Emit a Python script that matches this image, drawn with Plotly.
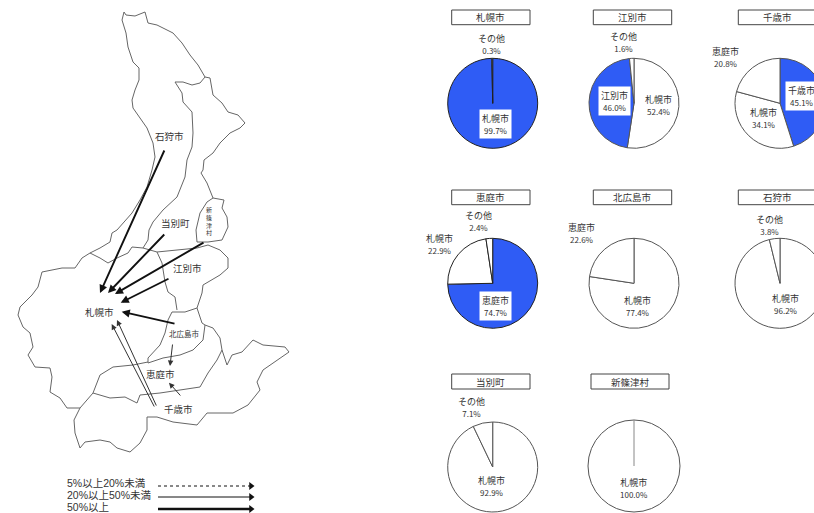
import plotly.graph_objects as go

# Figure canvas runs slightly past the window so the third pie column is cut at the edge
W, H = 830, 513

# Commuting shares by municipality
pie_titles = ["札幌市", "江別市", "千歳市", "恵庭市", "北広島市", "石狩市", "当別町", "新篠津村"]
sapporo_labels = ["札幌市", "その他"]
sapporo_values = [99.7, 0.3]
ebetsu_labels = ["札幌市", "江別市", "その他"]
ebetsu_values = [52.4, 46.0, 1.6]
chitose_labels = ["千歳市", "札幌市", "恵庭市"]
chitose_values = [45.1, 34.1, 20.8]
eniwa_labels = ["恵庭市", "札幌市", "その他"]
eniwa_values = [74.7, 22.9, 2.4]
kitahiroshima_labels = ["札幌市", "恵庭市"]
kitahiroshima_values = [77.4, 22.6]
ishikari_labels = ["札幌市", "その他"]
ishikari_values = [96.2, 3.8]
tobetsu_labels = ["札幌市", "その他"]
tobetsu_values = [92.9, 7.1]
shinshinotsu_labels = ["札幌市"]
shinshinotsu_values = [100.0]

all_labels = [sapporo_labels, ebetsu_labels, chitose_labels, eniwa_labels,
              kitahiroshima_labels, ishikari_labels, tobetsu_labels, shinshinotsu_labels]
all_values = [sapporo_values, ebetsu_values, chitose_values, eniwa_values,
              kitahiroshima_values, ishikari_values, tobetsu_values, shinshinotsu_values]

# Home municipality is highlighted in its own pie
highlight = ["札幌市", "江別市", "千歳市", "恵庭市", None, None, None, None]

BLUE = "#2f5cf5"
INK = "#333333"
JP = "Noto Sans CJK JP"

# Pixel layout of the pie grid: centre x, centre y, radius, title box x0, x1, y0, y1
pie_boxes = [
    (492.7, 103.3, 45, 451.7, 530, 10, 24.7),
    (634, 103.3, 45, 593.3, 671.7, 10, 24.7),
    (780, 103.3, 45, 738.3, 817, 10, 24.7),
    (492.7, 283.3, 45, 451.7, 530, 190, 204.7),
    (634, 283.3, 45, 593.3, 671.7, 190, 204.7),
    (780, 283.3, 45, 738.3, 817, 190, 204.7),
    (492.7, 467, 45, 451.7, 530, 374, 389),
    (634, 466, 46, 591, 669, 374, 389),
]

# Slice label positions, one list per pie, same order as its labels
label_spots = [
    [(495, 124), (491.7, 44)],
    [(658, 104.5), (614, 100.8), (623, 41.7)],
    [(801.7, 95.8), (763, 117.8), (725, 57)],
    [(495, 306), (439, 243.8), (478, 220.8)],
    [(637, 305.5), (581.7, 232.7)],
    [(785, 303.8), (769, 225)],
    [(491, 486), (471.7, 407)],
    [(634, 488)],
]

# District outlines, x and y in map units
ishikari_west = [(124, 12), (122, 20), (126, 33), (128, 47), (133, 62), (139, 68), (139, 80), (135, 90),
                 (132, 100), (133, 108), (140, 118), (147, 128), (153, 143), (155, 157), (152, 170),
                 (147, 187), (140, 200), (132, 213), (117, 230), (112, 233), (110, 242), (100, 248),
                 (90, 253), (82, 258)]
ishikari_east = [(124, 12), (126, 15), (135, 16), (145, 12), (148, 23), (157, 25), (163, 28), (173, 33),
                 (182, 43), (190, 55), (198, 65), (205, 77), (210, 78), (213, 95), (222, 103), (228, 112),
                 (238, 115), (245, 123), (240, 128), (230, 133), (220, 143), (213, 153), (204, 160),
                 (203, 170), (201, 173), (207, 183), (213, 198)]
tobetsu_inner = [(205, 77), (200, 83), (192, 85), (183, 82), (175, 82), (182, 93), (183, 102), (192, 112),
                 (193, 133), (192, 147), (187, 160), (185, 177), (177, 197), (163, 210), (153, 222),
                 (149, 230), (148, 240), (143, 248), (132, 247), (128, 253), (117, 258), (108, 263),
                 (100, 258), (90, 253)]
tobetsu_south = [(143, 248), (157, 252), (197, 248), (208, 245), (220, 250), (228, 258), (228, 268),
                 (220, 275), (203, 285), (202, 293), (197, 308)]
shinshinotsu_outline = [(207, 202), (213, 198), (224, 200), (222, 208), (227, 217), (228, 227), (222, 240),
                        (208, 242), (197, 242), (196, 230), (200, 213), (207, 202)]
ebetsu_west = [(157, 252), (162, 263), (165, 282), (168, 292), (175, 297), (177, 310)]
kitahiroshima_outline = [(172, 312), (185, 312), (197, 308), (202, 323), (205, 325), (203, 340), (193, 350),
                         (180, 355), (163, 358), (148, 363), (148, 358), (160, 345), (165, 333), (168, 320),
                         (172, 312)]
sapporo_outline = [(82, 258), (75, 268), (62, 268), (50, 270), (42, 272), (38, 287), (32, 295), (20, 307),
                   (18, 315), (23, 327), (30, 333), (33, 347), (28, 355), (35, 367), (50, 368), (52, 377),
                   (50, 392), (60, 398), (67, 408), (80, 408), (93, 393), (100, 375), (113, 367), (133, 365),
                   (148, 362)]
eniwa_outline = [(93, 393), (110, 398), (125, 397), (137, 403), (140, 395), (160, 393), (180, 390), (200, 387),
                 (208, 373), (217, 360), (222, 350), (220, 338), (213, 328), (205, 325)]
chitose_outline = [(80, 408), (74, 420), (75, 433), (80, 448), (85, 442), (100, 440), (110, 442), (117, 448),
                   (130, 452), (140, 443), (147, 430), (147, 417), (157, 417), (173, 422), (197, 425),
                   (207, 413), (233, 413), (248, 405), (260, 390), (257, 382), (263, 370), (277, 360),
                   (289, 352), (285, 347), (263, 345), (253, 340), (242, 352), (232, 355), (227, 365),
                   (222, 350)]
map_outlines = [ishikari_west, ishikari_east, tobetsu_inner, tobetsu_south, shinshinotsu_outline, ebetsu_west,
                kitahiroshima_outline, sapporo_outline, eniwa_outline, chitose_outline]

map_places = ["石狩市", "当別町", "江別市", "札幌市", "恵庭市", "千歳市"]
place_spots = [(169, 136), (175, 223), (187, 268), (99, 312), (160, 374), (178, 409)]

# Flows between districts: start x, start y, end x, end y, line width
flows = [
    (165, 149, 100, 293, 1.9),
    (165.7, 233, 108, 293, 1.9),
    (205, 241.7, 115, 294, 1.9),
    (170, 278, 120.7, 302.7, 1.9),
    (176, 324, 121.7, 311.7, 1.9),
    (172.7, 343, 170, 366, 1),
    (181.7, 397, 169, 382.7, 1),
    (155, 408, 111.7, 324, 1),
    (157, 407, 117, 320, 1),
]

legend_labels = ["5%以上20%未満", "20%以上50%未満", "50%以上"]
legend_rows = [486, 497, 509]
legend_text_rows = [482.5, 494.5, 506.5]
legend_widths = [1, 1, 2.4]
legend_dashes = ["dot", "solid", "solid"]

fig = go.Figure()

# District map
for outline in map_outlines:
    fig.add_trace(go.Scatter(x=[p[0] for p in outline], y=[p[1] for p in outline], mode="lines",
                             line=dict(color="#666666", width=1), hoverinfo="skip", showlegend=False))

# Legend rows with arrow ends
for row, width, dash in zip(legend_rows, legend_widths, legend_dashes):
    fig.add_trace(go.Scatter(x=[158, 252], y=[row, row], mode="lines", line=dict(color="#111111", width=width, dash=dash),
                             hoverinfo="skip", showlegend=False))
    fig.add_trace(go.Scatter(x=[251], y=[row], mode="markers", marker=dict(symbol="triangle-right", size=7, color="#111111"),
                             hoverinfo="skip", showlegend=False))

annotations = []
shapes = []


def note(x, y, text, size=9, **kw):
    annotations.append(dict(x=x, y=y, xref="x", yref="y", text=text, showarrow=False,
                            font=dict(family=JP, size=size, color=INK), **kw))


for i, (title, labels, values, box) in enumerate(zip(pie_titles, all_labels, all_values, pie_boxes)):
    cx, cy, r, bx0, bx1, by0, by1 = box
    colors = [BLUE if lab == highlight[i] else "white" for lab in labels]
    fig.add_trace(go.Pie(
        labels=labels, values=values, sort=False, direction="clockwise", rotation=0,
        marker=dict(colors=colors, line=dict(color="#222222" if i in (0, 3) else "#555555", width=1)),
        textinfo="none", hoverinfo="skip", showlegend=False,
        domain=dict(x=[(cx - r) / W, (cx + r) / W], y=[1 - (cy + r) / H, 1 - (cy - r) / H]),
    ))
    shapes.append(dict(type="rect", x0=bx0, x1=bx1, y0=by0, y1=by1, xref="x", yref="y",
                       line=dict(color="#444444", width=1), fillcolor="white"))
    note((bx0 + bx1) / 2, (by0 + by1) / 2, title, size=9.5)
    for lab, val, spot in zip(labels, values, label_spots[i]):
        text = f'{lab}<br><span style="font-size:8px">{val:.1f}%</span>'
        if lab == highlight[i]:
            note(spot[0], spot[1], text, size=9, bgcolor="white", borderpad=2)
        else:
            note(spot[0], spot[1], text, size=9)

# A single full slice still shows its seam at twelve o'clock
seam = pie_boxes[7]
shapes.append(dict(type="line", x0=seam[0], x1=seam[0], y0=seam[1] - seam[2], y1=seam[1], xref="x", yref="y",
                   line=dict(color="#888888", width=1)))

for name, spot in zip(map_places, place_spots):
    note(spot[0], spot[1], name, size=9.5)
note(184, 333.5, "北広島市", size=7.5)
annotations.append(dict(x=209, y=221, xref="x", yref="y", text="新<br>篠<br>津<br>村", showarrow=False,
                        font=dict(family=JP, size=6, color=INK)))

for x0, y0, x1, y1, width in flows:
    annotations.append(dict(x=x1, y=y1, ax=x0, ay=y0, xref="x", yref="y", axref="x", ayref="y", text="",
                            showarrow=True, arrowhead=2, arrowsize=1.1 if width < 1.5 else 0.85, arrowwidth=width,
                            arrowcolor="#111111" if width > 1 else "#333333", standoff=0))

for text, row in zip(legend_labels, legend_text_rows):
    annotations.append(dict(x=65, y=row, xref="x", yref="y", xanchor="left", text=text, showarrow=False,
                            font=dict(family="Liberation Sans, " + JP, size=10.5, color=INK)))

fig.update_layout(
    width=W, height=H, margin=dict(l=0, r=0, t=0, b=0), paper_bgcolor="white", plot_bgcolor="white",
    xaxis=dict(range=[0, W], visible=False, domain=[0, 1], fixedrange=True),
    yaxis=dict(range=[H, 0], visible=False, domain=[0, 1], fixedrange=True),
    shapes=shapes, annotations=annotations, showlegend=False,
)

fig.write_html("out.html", config={"displayModeBar": False},
               post_script="document.documentElement.style.overflow='hidden';document.body.style.overflow='hidden';")
